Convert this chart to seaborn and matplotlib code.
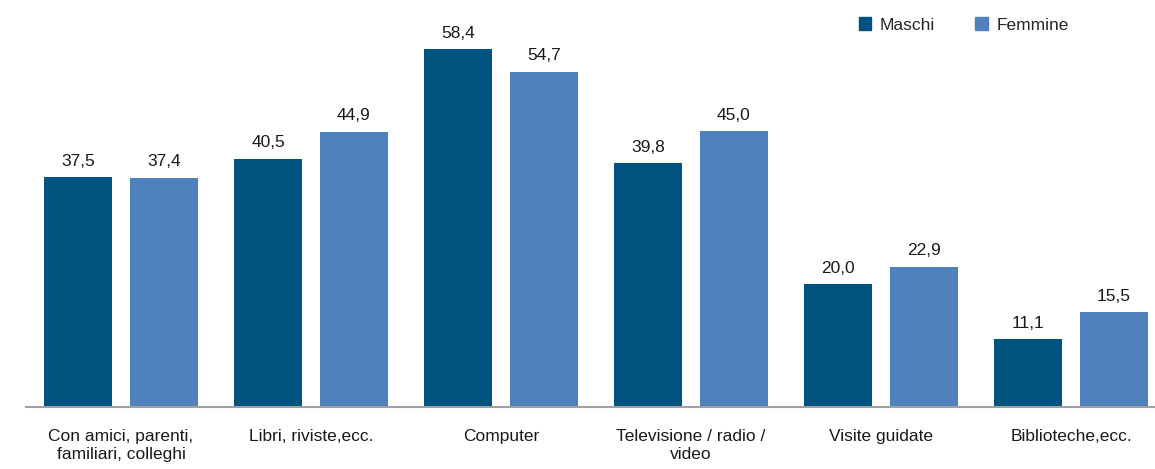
import matplotlib
matplotlib.use("Agg")
import matplotlib.pyplot as plt
import seaborn as sns
import pandas as pd
from matplotlib.patches import Patch

categories = ["Con amici, parenti,\nfamiliari, colleghi", "Libri, riviste,ecc.", "Computer",
              "Televisione / radio /\nvideo", "Visite guidate", "Biblioteche,ecc."]
maschi = [37.5, 40.5, 58.4, 39.8, 20.0, 11.1]
femmine = [37.4, 44.9, 54.7, 45.0, 22.9, 15.5]
series = ["Maschi", "Femmine"]
colors = ["#00527F", "#4F81BD"]

df = pd.DataFrame({
    "cat": categories * 2,
    "val": maschi + femmine,
    "sex": [series[0]] * len(categories) + [series[1]] * len(categories),
})

sns.set_theme(style="white")
plt.rcParams["font.family"] = ["Liberation Sans", "DejaVu Sans"]

fig = plt.figure(figsize=(11.55, 4.69), dpi=100)
ax = fig.add_axes([26 / 1155, 62 / 469, 1140 / 1155, 407 / 469])
sns.barplot(data=df, x="cat", y="val", hue="sex", palette=colors, width=0.9, gap=0.21,
            ax=ax, legend=False, saturation=1, linewidth=0)
ax.set_xlim(-0.5, 5.5)
ax.set_ylim(0, 66.4)
for c in ax.containers:
    ax.bar_label(c, labels=[f"{v:.1f}".replace(".", ",") for v in c.datavalues],
                 padding=6, fontsize=12.5, color="#1a1a1a")
ax.set_xlabel("")
ax.set_ylabel("")
ax.set_yticks([])
for s in ["top", "right", "left"]:
    ax.spines[s].set_visible(False)
ax.spines["bottom"].set_color("#a0a0a0")
ax.spines["bottom"].set_linewidth(1.5)
ax.tick_params(axis="x", length=0, pad=16, labelsize=12.5, labelcolor="#1a1a1a")

handles = [Patch(color=colors[i], label=series[i]) for i in range(2)]
ax.legend(handles=handles, loc="upper right", bbox_to_anchor=(1060 / 1140, 1.0), ncol=2,
          frameon=False, fontsize=12.5, handlelength=0.7, handleheight=0.7,
          handletextpad=0.5, columnspacing=2.35, borderaxespad=0.6)

fig.savefig("out.png", dpi=100)
